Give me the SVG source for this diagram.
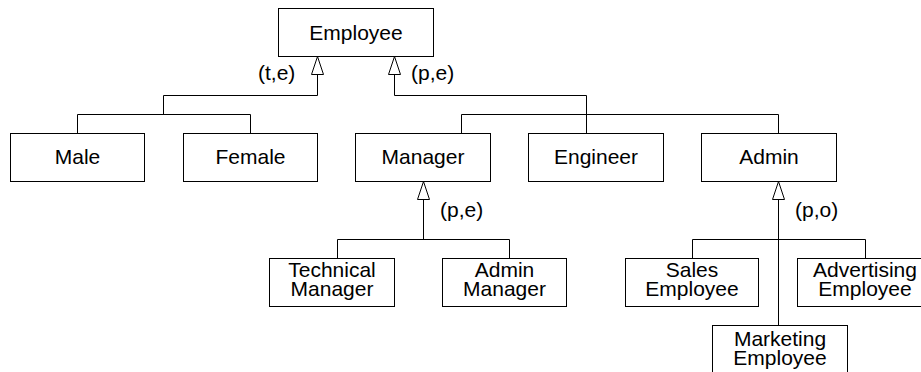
<svg xmlns="http://www.w3.org/2000/svg" width="921" height="372" viewBox="0 0 921 372">
  <style>
    .box { fill: #ffffff; stroke: #000000; stroke-width: 1; }
    .lbl { font-family: "Liberation Sans", Arial, sans-serif; font-size: 21px; fill: #000000; text-anchor: middle; }
    .tag { font-family: "Liberation Sans", Arial, sans-serif; font-size: 21px; fill: #000000; }
    .wire { fill: none; stroke: #000000; stroke-width: 1; }
    .head { fill: #ffffff; stroke: #000000; stroke-width: 1; }
  </style>
  <rect width="921" height="372" fill="#ffffff"/>

  <!-- generalization connectors -->
  <g id="connectors">
    <!-- Employee (t,e): Male, Female -->
    <path class="wire" d="M317.5 74 V95.5 H163.5 V114.5"/>
    <path class="wire" d="M77.5 133 V114.5 H250.5 V133"/>
    <polygon class="head" points="317.5,56.5 311.5,74.5 323.5,74.5"/>
    <text class="tag" x="258" y="80">(t,e)</text>

    <!-- Employee (p,e): Manager, Engineer, Admin -->
    <path class="wire" d="M394.5 74 V95.5 H586.5 V133"/>
    <path class="wire" d="M461.5 133 V114.5 H778.5 V133"/>
    <polygon class="head" points="394.5,56.5 388.5,74.5 400.5,74.5"/>
    <text class="tag" x="411" y="80">(p,e)</text>

    <!-- Manager (p,e): Technical Manager, Admin Manager -->
    <path class="wire" d="M423.5 199 V239.5"/>
    <path class="wire" d="M337.5 258 V239.5 H509.5 V258"/>
    <polygon class="head" points="423.5,181.5 417.5,199.5 429.5,199.5"/>
    <text class="tag" x="440" y="217">(p,e)</text>

    <!-- Admin (p,o): Sales, Advertising, Marketing -->
    <path class="wire" d="M778.5 199 V325"/>
    <path class="wire" d="M692.5 258 V239.5 H865.5 V258"/>
    <polygon class="head" points="778.5,181.5 772.5,199.5 784.5,199.5"/>
    <text class="tag" x="795" y="217">(p,o)</text>
  </g>

  <g id="employee">
    <rect class="box" x="278.5" y="8.5" width="155" height="48"/>
    <text class="lbl" x="356" y="40">Employee</text>
  </g>
  <g id="male">
    <rect class="box" x="10.5" y="133.5" width="134" height="48"/>
    <text class="lbl" x="77.5" y="164">Male</text>
  </g>
  <g id="female">
    <rect class="box" x="183.5" y="133.5" width="134" height="48"/>
    <text class="lbl" x="250.5" y="164">Female</text>
  </g>
  <g id="manager">
    <rect class="box" x="355.5" y="133.5" width="135" height="48"/>
    <text class="lbl" x="423" y="164">Manager</text>
  </g>
  <g id="engineer">
    <rect class="box" x="528.5" y="133.5" width="135" height="48"/>
    <text class="lbl" x="596" y="164">Engineer</text>
  </g>
  <g id="admin">
    <rect class="box" x="701.5" y="133.5" width="135" height="48"/>
    <text class="lbl" x="769" y="164">Admin</text>
  </g>
  <g id="technical-manager">
    <rect class="box" x="269.5" y="258.5" width="125" height="48"/>
    <text class="lbl" x="332" y="277">Technical</text>
    <text class="lbl" x="332" y="296">Manager</text>
  </g>
  <g id="admin-manager">
    <rect class="box" x="442.5" y="258.5" width="124" height="48"/>
    <text class="lbl" x="504.5" y="277">Admin</text>
    <text class="lbl" x="504.5" y="296">Manager</text>
  </g>
  <g id="sales-employee">
    <rect class="box" x="625.5" y="258.5" width="133" height="48"/>
    <text class="lbl" x="692" y="277">Sales</text>
    <text class="lbl" x="692" y="296">Employee</text>
  </g>
  <g id="advertising-employee">
    <rect class="box" x="797.5" y="258.5" width="135" height="48"/>
    <text class="lbl" x="865" y="277">Advertising</text>
    <text class="lbl" x="865" y="296">Employee</text>
  </g>
  <g id="marketing-employee">
    <rect class="box" x="712.5" y="325.5" width="135" height="48"/>
    <text class="lbl" x="780" y="346">Marketing</text>
    <text class="lbl" x="780" y="365">Employee</text>
  </g>
</svg>
